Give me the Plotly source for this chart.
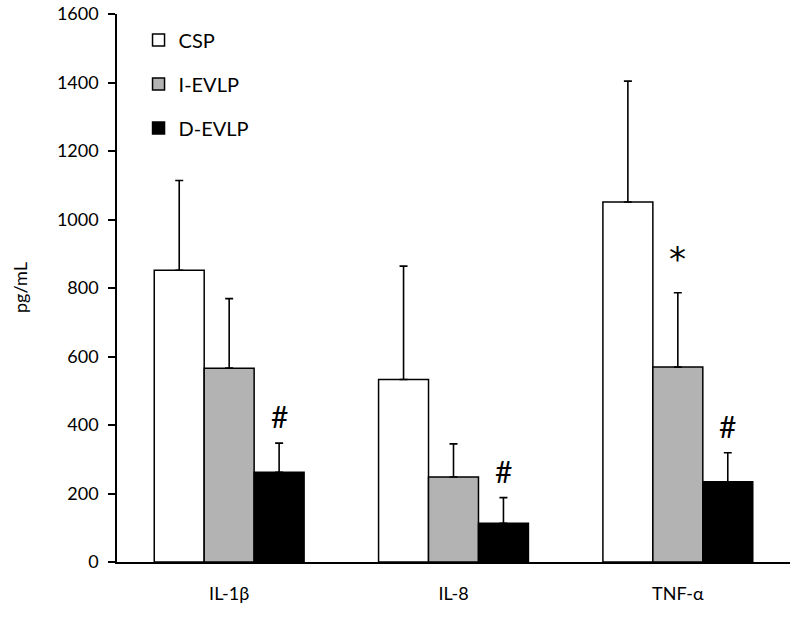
import plotly.graph_objects as go

categories = ["IL-1β", "IL-8", "TNF-α"]
series_names = ["CSP", "I-EVLP", "D-EVLP"]
csp = [852, 533, 1051]
i_evlp = [566, 248, 569]
d_evlp = [262, 113, 234]
csp_err = [262, 331, 353]
i_evlp_err = [203, 97, 217]
d_evlp_err = [85, 75, 85]
colors = ["#ffffff", "#b3b3b3", "#000000"]
values = [csp, i_evlp, d_evlp]
errors = [csp_err, i_evlp_err, d_evlp_err]

# significance markers: (category index, series index, symbol)
markers = [(0, 2, "#"), (1, 2, "#"), (2, 1, "*"), (2, 2, "#")]

fig = go.Figure()
for name, vals, errs, col in zip(series_names, values, errors, colors):
    fig.add_trace(go.Bar(
        name=name, x=categories, y=vals,
        marker=dict(color=col, line=dict(color="#000000", width=1.5)),
        error_y=dict(type="data", array=errs, symmetric=False,
                     arrayminus=[0] * len(errs), color="#000000",
                     thickness=1.6, width=4),
        legendgroup=name,
    ))

bar_w = 0.668 / 3
for ci, si, sym in markers:
    xpos = ci + (si - 1) * bar_w
    ytop = values[si][ci] + errors[si][ci]
    if sym == "*":
        fig.add_annotation(x=xpos, y=ytop, text=sym, showarrow=False, yshift=34,
                           font=dict(family="DejaVu Sans, sans-serif", size=34, color="#000"))
    else:
        fig.add_annotation(x=xpos, y=ytop, text=sym, showarrow=False, yshift=27,
                           font=dict(family="Lato, sans-serif", size=30, color="#000"))

fig.add_annotation(x=(20 - 117) / 673, y=0.5, xref="paper", yref="paper", text="pg/mL",
                   xanchor="center", yanchor="middle",
                   textangle=-90, showarrow=False, font=dict(size=18, family="Lato, sans-serif"))

fig.update_layout(
    width=800, height=619,
    paper_bgcolor="white", plot_bgcolor="white",
    margin=dict(l=117, r=10, t=14, b=57, autoexpand=False),
    barmode="group", bargap=0.332, bargroupgap=0,
    font=dict(family="Lato, sans-serif", color="#000"),
    showlegend=True,
    legend=dict(x=0.032, y=0.988, xanchor="left", yanchor="top",
                traceorder="grouped", tracegroupgap=15,
                font=dict(size=20, family="Lato, sans-serif"),
                bgcolor="rgba(0,0,0,0)", itemwidth=30),
)
fig.update_xaxes(range=[-0.5, 2.5], showline=True, linecolor="#000", linewidth=1.5,
                 ticks="", tickfont=dict(size=18), showgrid=False, zeroline=False,
                 automargin=False, ticklabelstandoff=15)
fig.update_yaxes(range=[0, 1600], dtick=200, showline=True, linecolor="#000", linewidth=1.5,
                 ticks="outside", ticklen=7, tickwidth=1.5, tickcolor="#000",
                 tickfont=dict(size=18), showgrid=False, zeroline=False,
                 automargin=False, ticklabelstandoff=6, ticklabeloverflow="allow")

fig.write_html("out.html", config={"displayModeBar": False},
               post_script="document.body.style.margin='0';document.body.style.overflow='hidden';")
